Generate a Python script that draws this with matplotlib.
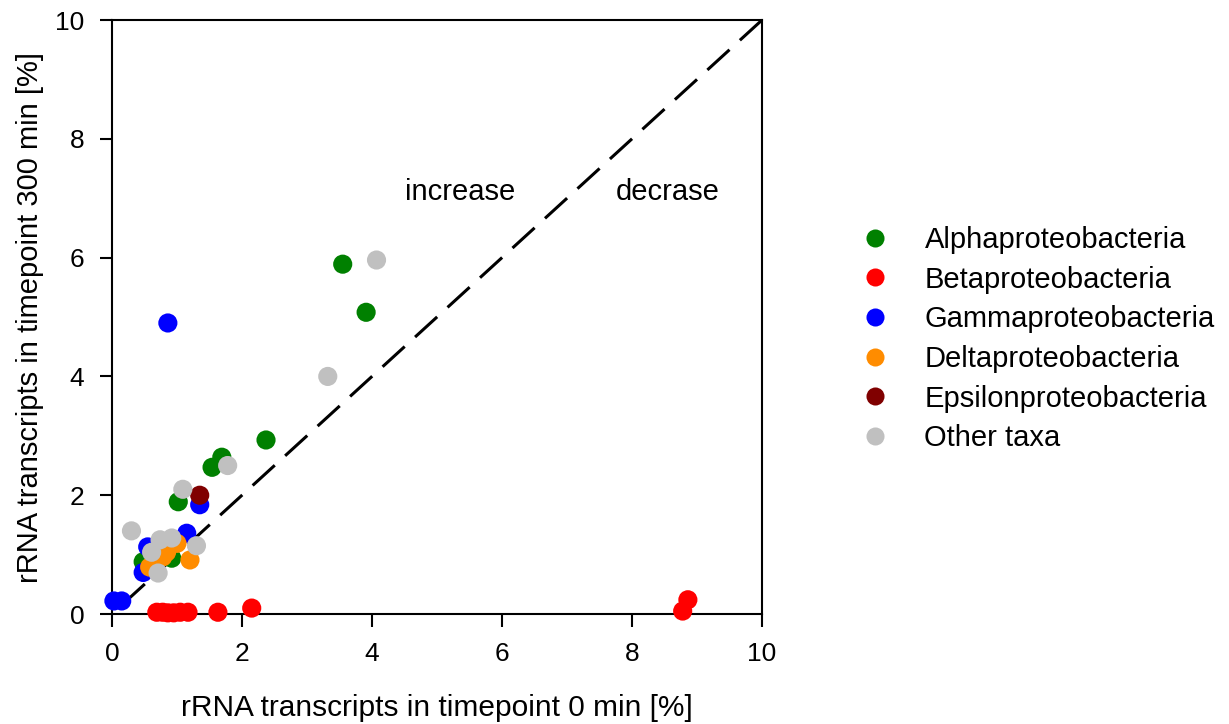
import matplotlib
matplotlib.use("Agg")
import matplotlib.pyplot as plt
from matplotlib.lines import Line2D

plt.rcParams['font.family'] = ['Liberation Sans', 'DejaVu Sans']

groups = ["Alphaproteobacteria", "Betaproteobacteria", "Gammaproteobacteria",
          "Deltaproteobacteria", "Epsilonproteobacteria", "Other taxa"]
colors = ["#008000", "#ff0000", "#0000ff", "#ff8c00", "#800000", "#c0c0c0"]

alpha_x = [3.55, 3.91, 2.37, 1.69, 1.54, 1.02, 0.48, 0.92]
alpha_y = [5.89, 5.08, 2.93, 2.64, 2.47, 1.89, 0.88, 0.94]

beta_x = [0.69, 0.78, 0.86, 0.95, 1.05, 1.17, 1.63, 2.15, 8.78, 8.86]
beta_y = [0.03, 0.03, 0.02, 0.02, 0.03, 0.03, 0.03, 0.10, 0.05, 0.24]

gamma_x = [0.86, 1.35, 1.15, 0.03, 0.15, 0.48, 0.55]
gamma_y = [4.90, 1.84, 1.36, 0.22, 0.22, 0.70, 1.13]

delta_x = [1.20, 0.58, 0.78, 0.84, 1.00]
delta_y = [0.91, 0.79, 0.96, 1.04, 1.19]

epsilon_x = [1.35]
epsilon_y = [2.00]

other_x = [4.07, 3.32, 1.78, 1.09, 0.30, 0.74, 0.92, 1.30, 0.61, 0.71]
other_y = [5.96, 4.00, 2.50, 2.10, 1.40, 1.25, 1.28, 1.15, 1.04, 0.69]

xs = [alpha_x, beta_x, gamma_x, delta_x, epsilon_x, other_x]
ys = [alpha_y, beta_y, gamma_y, delta_y, epsilon_y, other_y]

fig = plt.figure(figsize=(12.29, 7.24), dpi=100)
ax = fig.add_axes([0.0911, 0.1519, 0.5289, 0.8204])

ax.plot([10, 0], [10, 0], color="black", lw=2.2, dashes=(9.8, 4.6), zorder=1)

for name, c, x, y in zip(groups, colors, xs, ys):
    ax.scatter(x, y, s=190, color=c, edgecolors="none", zorder=3, label=name, clip_on=False)

ax.set_xlim(0, 10)
ax.set_ylim(0, 10)
ax.set_xticks([0, 2, 4, 6, 8, 10])
ax.set_yticks([0, 2, 4, 6, 8, 10])
ax.tick_params(direction="out", length=9, width=1.5, labelsize=19, pad=11)
for sp in ax.spines.values():
    sp.set_linewidth(1.5)

ax.set_xlabel("rRNA transcripts in timepoint 0 min [%]", fontsize=21.5, labelpad=20)
ax.set_ylabel("rRNA transcripts in timepoint 300 min [%]", fontsize=21, labelpad=8)

ax.text(5.35, 7.1, "increase", fontsize=21, ha="center", va="center")
ax.text(8.55, 7.1, "decrase", fontsize=21, ha="center", va="center")

handles = [Line2D([], [], marker="o", linestyle="none", markersize=13,
                  markerfacecolor=c, markeredgecolor="none") for c in colors]
fig.legend(handles, groups, loc="upper left", bbox_to_anchor=(0.7, 0.688),
           frameon=False, fontsize=21, labelspacing=0.40, handlelength=1.0,
           handletextpad=1.2, borderaxespad=0, borderpad=0)

fig.savefig("out.png", dpi=100)
